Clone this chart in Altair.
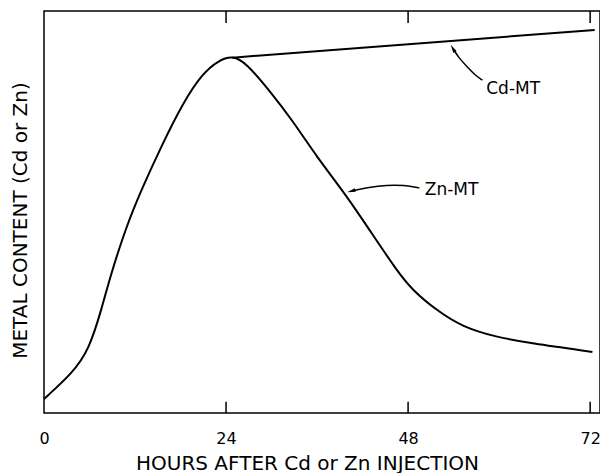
import altair as alt
import pandas as pd

# Zn-MT curve (hours, relative metal content 0-100)
hours_zn = [0, 3.73, 5.94, 7.69, 8.58, 10.78, 12.97, 15.61, 18.25, 20.88, 23.09, 24.84,
            26.65, 29.68, 32.72, 35.88, 39.84, 43.27, 46.57, 48.55, 51.72, 55.15, 59.63, 63.98, 72.3]
zn_mt = [3.5, 9.9, 15.7, 26.5, 33.0, 46.1, 56.1, 66.9, 76.9, 84.5, 87.8, 88.9,
         87.1, 80.3, 72.9, 63.9, 54.2, 44.5, 35.3, 30.6, 25.6, 21.4, 18.9, 17.4, 15.2]

# Cd-MT line
hours_cd = [24.84, 72.6]
cd_mt = [88.4, 95.3]

# tick positions
tick_hours = [0, 24, 48, 72]
inner_ticks_bottom = [24, 48, 72]
inner_ticks_top = [24, 48, 72]

# annotation arrows (data units)
zn_arrow_h = [40.5, 42.9, 45.1, 47.5, 49.5]
zn_arrow_v = [55.2, 56.2, 56.7, 56.7, 56.0]
cd_arrow_h = [53.9, 54.7, 55.8, 56.8, 57.8]
cd_arrow_v = [90.7, 88.3, 86.1, 84.1, 82.8]

labels = ["Zn-MT", "Cd-MT"]
label_h = [50.2, 58.3]
label_v = [55.4, 80.6]

FONT = "DejaVu Sans"

xs = alt.Scale(domain=[0, 73.3], nice=False, zero=False)
ys = alt.Scale(domain=[0, 100], nice=False, zero=False)

xaxis = alt.Axis(values=tick_hours, title="HOURS AFTER Cd or Zn INJECTION",
                 domain=False, ticks=False, tickSize=0, grid=False,
                 labelFont=FONT, labelFontSize=16, labelPadding=17, labelFlush=False,
                 labelColor="black", titleFont=FONT, titleFontSize=20,
                 titleFontWeight="normal", titleColor="black",
                 titleX=263, titleY=56, titleBaseline="alphabetic", titleAlign="center")
yaxis = alt.Axis(values=[0], title="METAL CONTENT (Cd or Zn)", domain=False, ticks=False,
                 tickSize=0, labels=False, grid=False,
                 titleFont=FONT, titleFontSize=20, titleFontWeight="normal",
                 titleColor="black", titleAngle=270, titleX=-18, titleY=209,
                 titleBaseline="alphabetic", titleAlign="center")


def X(f):
    return alt.X(f, scale=xs, axis=xaxis)


def Y(f):
    return alt.Y(f, scale=ys, axis=yaxis)


zn_df = pd.DataFrame({"h": hours_zn, "v": zn_mt})
cd_df = pd.DataFrame({"h": hours_cd, "v": cd_mt})

zn_line = alt.Chart(zn_df).mark_line(color="black", strokeWidth=2,
                                     interpolate="basis").encode(x=X("h:Q"), y=Y("v:Q"))
cd_line = alt.Chart(cd_df).mark_line(color="black", strokeWidth=2).encode(x=X("h:Q"), y=Y("v:Q"))

tb = pd.DataFrame({"h": inner_ticks_bottom, "v": [0] * 3, "v2": [2.8] * 3})
tt = pd.DataFrame({"h": inner_ticks_top, "v": [100] * 3, "v2": [97] * 3})
ticks_b = alt.Chart(tb).mark_rule(color="black", strokeWidth=1.5).encode(
    x=X("h:Q"), y=Y("v:Q"), y2="v2:Q")
ticks_t = alt.Chart(tt).mark_rule(color="black", strokeWidth=1.5).encode(
    x=X("h:Q"), y=Y("v:Q"), y2="v2:Q")

zn_arr = pd.DataFrame({"h": zn_arrow_h, "v": zn_arrow_v, "o": list(range(5))})
cd_arr = pd.DataFrame({"h": cd_arrow_h, "v": cd_arrow_v, "o": list(range(5))})
arr_zn = alt.Chart(zn_arr).mark_line(color="black", strokeWidth=1.5, interpolate="basis").encode(
    x=X("h:Q"), y=Y("v:Q"), order="o:Q")
arr_cd = alt.Chart(cd_arr).mark_line(color="black", strokeWidth=1.5, interpolate="basis").encode(
    x=X("h:Q"), y=Y("v:Q"), order="o:Q")

head_zn = alt.Chart(zn_arr.iloc[[0]]).mark_point(
    shape="M -1 0 L 1 -0.45 L 1 0.45 Z", filled=True, color="black", size=70,
    opacity=1, angle=345).encode(x=X("h:Q"), y=Y("v:Q"))
head_cd = alt.Chart(cd_arr.iloc[[0]]).mark_point(
    shape="M 0 -1 L -0.45 1 L 0.45 1 Z", filled=True, color="black", size=70,
    opacity=1, angle=330).encode(x=X("h:Q"), y=Y("v:Q"))

lab_df = pd.DataFrame({"t": labels, "h": label_h, "v": label_v})
text = alt.Chart(lab_df).mark_text(align="left", baseline="middle", font=FONT,
                                   fontSize=17, color="black").encode(
    x=X("h:Q"), y=Y("v:Q"), text="t:N")

chart = alt.layer(zn_line, cd_line, ticks_b, ticks_t, arr_zn, arr_cd, head_zn, head_cd, text).properties(
    width=556, height=402,
    background="white",
    autosize=alt.AutoSizeParams(type="none"),
    padding={"left": 36, "top": 3, "right": 0, "bottom": 60},
).configure_view(stroke="black", strokeWidth=1.5)

chart.save("out.html", embed_options={"renderer": "svg", "actions": False})
